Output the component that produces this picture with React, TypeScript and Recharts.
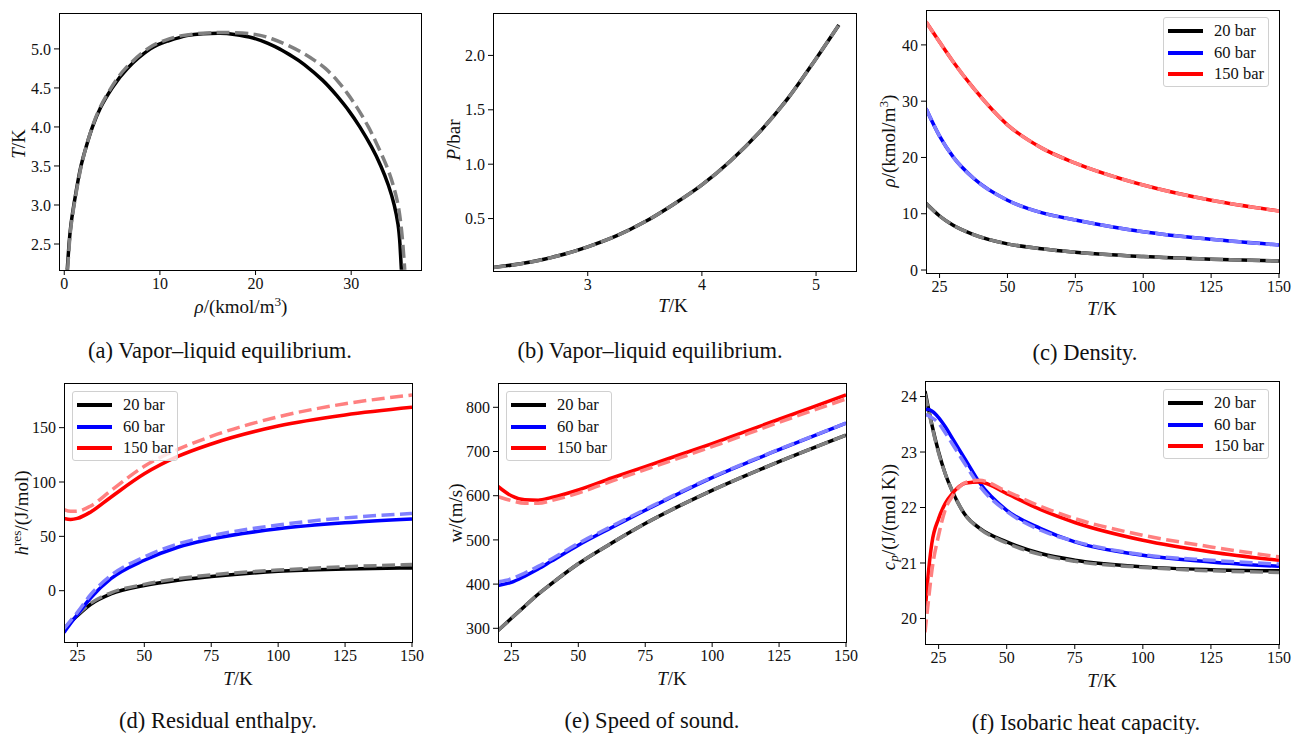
import React from "react";
import { LineChart, Line, XAxis, YAxis } from "recharts";

const SERIF = '"Liberation Serif", "DejaVu Serif", serif';

// (a) phase envelope: density and temperature
const vleModelRho = [0.31, 0.5, 0.7, 1.0, 1.35, 1.75, 2.3, 2.95, 3.8, 5.0, 6.6, 9.0, 10.8, 12.8, 14.5, 16.3, 17.8, 19.75, 21.3, 22.5, 23.9, 25.1, 27.0, 28.5, 29.8, 30.9, 32.1, 33.1, 33.9, 34.5, 34.9, 35.1, 35.25];
const vleModelT = [2.17, 2.5, 2.75, 3.0, 3.25, 3.5, 3.75, 4.0, 4.25, 4.5, 4.75, 5.0, 5.1, 5.17, 5.195, 5.2, 5.185, 5.14, 5.07, 5.0, 4.9, 4.8, 4.6, 4.4, 4.2, 4.0, 3.75, 3.5, 3.25, 3.0, 2.75, 2.5, 2.17];
const vleRefRho = [0.35, 0.53, 0.73, 1.03, 1.38, 1.78, 2.3, 2.93, 3.75, 4.9, 6.4, 8.7, 10.3, 12.3, 15.0, 17.0, 19.75, 21.7, 23.3, 24.9, 26.2, 27.3, 28.5, 29.6, 30.6, 31.8, 32.8, 33.7, 34.4, 34.9, 35.2, 35.4, 35.6];
const vleRefT = [2.17, 2.5, 2.75, 3.0, 3.25, 3.5, 3.75, 4.0, 4.25, 4.5, 4.75, 5.0, 5.1, 5.17, 5.205, 5.21, 5.19, 5.13, 5.05, 4.95, 4.85, 4.75, 4.6, 4.43, 4.25, 4.0, 3.75, 3.5, 3.25, 3.0, 2.75, 2.5, 2.17];

// (b) vapour pressure
const vpT = [2.17, 2.5, 2.75, 3.0, 3.25, 3.5, 3.75, 4.0, 4.25, 4.5, 4.75, 5.0, 5.2];
const vpP = [0.05, 0.1, 0.16, 0.24, 0.34, 0.47, 0.63, 0.81, 1.03, 1.29, 1.6, 1.97, 2.28];

// (c) density
const tempsDensity = [20, 25, 30, 37.5, 50, 62.5, 75, 100, 125, 150];
const rho20 = [11.85, 9.6, 7.95, 6.3, 4.65, 3.78, 3.16, 2.39, 1.92, 1.6];
const rho60 = [28.7, 23.8, 20.1, 16.3, 12.4, 10.2, 8.9, 6.8, 5.45, 4.45];
const rho150 = [44.1, 40.5, 37.0, 32.3, 25.8, 21.7, 19.0, 15.1, 12.4, 10.5];

// (d) residual enthalpy
const tempsEnthalpy = [20, 22.5, 25, 30, 37.5, 50, 62.5, 75, 100, 125, 150];
const hres20Model = [-37, -29, -23, -12.5, -3, 4.8, 9.7, 13, 17.8, 19.9, 21];
const hres20Ref = [-35, -28, -22, -11.5, -2, 5.8, 11, 14.5, 19, 22, 24];
const hres60Model = [-38.5, -30, -22, -6.5, 11, 28, 40, 47.5, 57, 62.5, 66];
const hres60Ref = [-35, -27.5, -20, -3.5, 14, 31, 43, 50.5, 60.5, 67, 71];
const hres150Model = [66.5, 65.5, 66.5, 72.5, 86, 107.5, 123.5, 135, 151.5, 161.7, 168.7];
const hres150Ref = [74.5, 73, 73.2, 78, 92, 114.5, 130, 142, 160, 172, 180];

// (e) speed of sound
const tempsSound = [20, 25, 30, 35, 40, 50, 62.5, 75, 100, 125, 150];
const w20 = [295, 322.6, 350, 377, 401, 446, 493, 537, 612, 677, 737];
const w60Model = [397, 404, 418, 434, 452, 488, 528, 567, 641, 704, 764];
const w60Ref = [405, 412, 425, 440, 457, 492, 531, 569, 642, 705, 764];
const w150Model = [621, 600, 591, 590, 596, 613, 640, 666, 718, 773, 828];
const w150Ref = [598, 589, 583, 583, 589, 606, 633, 659, 711, 766, 819];

// (f) isobaric heat capacity
const tempsCp = [20, 21, 22.5, 25, 27.5, 30, 35, 40, 50, 62.5, 75, 100, 125, 150];
const cp20Model = [24.1, 23.85, 23.5, 23.0, 22.6, 22.3, 21.85, 21.63, 21.38, 21.17, 21.05, 20.93, 20.88, 20.86];
const cp20Ref = [24.05, 23.82, 23.48, 22.98, 22.6, 22.3, 21.85, 21.62, 21.36, 21.15, 21.03, 20.92, 20.86, 20.83];
const cp60Model = [23.76, 23.77, 23.74, 23.62, 23.45, 23.25, 22.85, 22.45, 21.95, 21.62, 21.38, 21.14, 21.02, 20.94];
const cp60Ref = [23.68, 23.66, 23.62, 23.52, 23.34, 23.15, 22.76, 22.39, 21.93, 21.59, 21.39, 21.15, 21.05, 20.98];
const cp150Model = [20.1, 20.7, 21.35, 21.8, 22.08, 22.25, 22.44, 22.46, 22.25, 21.96, 21.73, 21.41, 21.2, 21.05];
const cp150Ref = [19.75, 20.2, 20.85, 21.5, 21.97, 22.2, 22.45, 22.49, 22.29, 22.02, 21.8, 21.5, 21.29, 21.11];

const pressures = ["20 bar", "60 bar", "150 bar"];
const tempTicks = [25, 50, 75, 100, 125, 150];

const DARK = ["#000000", "#0000ff", "#ff0000"];
const LIGHT = ["#808080", "#8080ff", "#ff8080"];

const zip = (xs: number[], ys: number[]) => xs.map((x, i) => ({ x, y: ys[i] }));

type Pt = { x: number; y: number };
type Series = { data: Pt[]; color: string; dashed?: boolean };

const YW = 50;
const MT = 6;
const MR = 20;
const XH = 30;

function Panel(props: {
  rect: [number, number, number, number];
  xDomain: [number, number];
  yDomain: [number, number];
  xTicks: number[];
  yTicks: number[];
  yFmt?: (v: number) => string;
  series: Series[];
  curve?: "monotone" | "natural";
}) {
  const [x0, x1, y0, y1] = props.rect;
  const tick = { fill: "#111", fontSize: 16, fontFamily: SERIF };
  return (
    <>
      <div style={{ position: "absolute", left: x0 - YW, top: y0 - MT }}>
        <LineChart
          width={x1 - x0 + YW + MR}
          height={y1 - y0 + MT + XH}
          margin={{ top: MT, right: MR, bottom: 0, left: 0 }}
        >
          <XAxis
            type="number"
            dataKey="x"
            domain={props.xDomain}
            ticks={props.xTicks}
            allowDataOverflow
            height={XH}
            axisLine={false}
            tickLine={{ stroke: "#000" }}
            tickSize={5}
            tickMargin={3}
            tick={tick}
            interval={0}
          />
          <YAxis
            type="number"
            domain={props.yDomain}
            ticks={props.yTicks}
            allowDataOverflow
            width={YW}
            axisLine={false}
            tickLine={{ stroke: "#000" }}
            tickSize={5}
            tickMargin={3}
            tick={tick}
            interval={0}
            tickFormatter={props.yFmt}
          />
          {props.series.map((s, i) => (
            <Line
              key={i}
              data={s.data}
              dataKey="y"
              type={props.curve ?? "monotone"}
              stroke={s.color}
              strokeWidth={3.5}
              strokeDasharray={s.dashed ? "13 5.5" : undefined}
              dot={false}
              activeDot={false}
              isAnimationActive={false}
            />
          ))}
        </LineChart>
      </div>
      <div
        style={{
          position: "absolute",
          left: x0,
          top: y0,
          width: x1 - x0 + 1,
          height: y1 - y0 + 1,
          border: "1px solid #000",
          boxSizing: "border-box",
          pointerEvents: "none",
        }}
      />
    </>
  );
}

function Legend({ left, top }: { left: number; top: number }) {
  return (
    <div
      style={{
        position: "absolute",
        left,
        top,
        width: 106,
        height: 70,
        boxSizing: "border-box",
        border: "1px solid #d0d0d0",
        borderRadius: 3,
        background: "rgba(255,255,255,0.8)",
        fontFamily: SERIF,
        fontSize: 16.5,
        color: "#111",
      }}
    >
      {pressures.map((p, i) => (
        <div key={p} style={{ position: "absolute", left: 4, top: 3 + i * 21.7, height: 20, display: "flex", alignItems: "center" }}>
          <div style={{ width: 35, height: 4, background: DARK[i] }} />
          <span style={{ marginLeft: 11, whiteSpace: "nowrap" }}>{p}</span>
        </div>
      ))}
    </div>
  );
}

function Text({ cx, cy, rotate, size = 19, children }: { cx: number; cy: number; rotate?: boolean; size?: number; children: React.ReactNode }) {
  return (
    <div
      style={{
        position: "absolute",
        left: cx,
        top: cy,
        transform: `translate(-50%, -50%)${rotate ? " rotate(-90deg)" : ""}`,
        whiteSpace: "nowrap",
        fontFamily: SERIF,
        fontSize: size,
        color: "#111",
        lineHeight: 1,
      }}
    >
      {children}
    </div>
  );
}

const sup = { fontSize: "0.7em", verticalAlign: "0.5em", lineHeight: 0 } as const;
const sub = { fontSize: "0.7em", verticalAlign: "-0.3em", lineHeight: 0 } as const;

const TK = (
  <>
    <i>T</i>/K
  </>
);
const RHO = (
  <>
    <i>ρ</i>/(kmol/m<span style={sup}>3</span>)
  </>
);

function threeP(xs: number[], model: number[][], ref: number[][]): Series[] {
  const out: Series[] = [];
  model.forEach((m, i) => {
    out.push({ data: zip(xs, m), color: DARK[i] });
    out.push({ data: zip(xs, ref[i]), color: LIGHT[i], dashed: true });
  });
  return out;
}

export default function App() {
  const fix1 = (v: number) => v.toFixed(1);
  return (
    <div style={{ position: "absolute", left: 0, top: 0, width: 1294, height: 734, background: "#fff", overflow: "hidden" }}>
      <Panel
        rect={[59, 421, 13, 270]}
        xDomain={[-0.55, 37.3]}
        yDomain={[2.167, 5.46]}
        xTicks={[0, 10, 20, 30]}
        yTicks={[2.5, 3, 3.5, 4, 4.5, 5]}
        yFmt={fix1}
        curve="natural"
        series={[
          { data: zip(vleModelRho, vleModelT), color: "#000" },
          { data: zip(vleRefRho, vleRefT), color: "#808080", dashed: true },
        ]}
      />
      <Panel
        rect={[493, 856, 13, 271]}
        xDomain={[2.17, 5.35]}
        yDomain={[0.018, 2.39]}
        xTicks={[3, 4, 5]}
        yTicks={[0.5, 1, 1.5, 2]}
        yFmt={fix1}
        series={[
          { data: zip(vpT, vpP), color: "#000" },
          { data: zip(vpT, vpP), color: "#808080", dashed: true },
        ]}
      />
      <Panel
        rect={[926, 1279, 10, 273]}
        xDomain={[20, 150]}
        yDomain={[-0.53, 46.2]}
        xTicks={tempTicks}
        yTicks={[0, 10, 20, 30, 40]}
        series={threeP(tempsDensity, [rho20, rho60, rho150], [rho20, rho60, rho150])}
      />
      <Panel
        rect={[64, 412, 383, 642]}
        xDomain={[20, 150]}
        yDomain={[-47.2, 191.1]}
        xTicks={tempTicks}
        yTicks={[0, 50, 100, 150]}
        series={threeP(tempsEnthalpy, [hres20Model, hres60Model, hres150Model], [hres20Ref, hres60Ref, hres150Ref])}
      />
      <Panel
        rect={[498, 846, 383, 642]}
        xDomain={[20, 150]}
        yDomain={[269, 855]}
        xTicks={tempTicks}
        yTicks={[300, 400, 500, 600, 700, 800]}
        series={threeP(tempsSound, [w20, w60Model, w150Model], [w20, w60Ref, w150Ref])}
      />
      <Panel
        rect={[925, 1279, 381, 644]}
        xDomain={[20, 150]}
        yDomain={[19.54, 24.28]}
        xTicks={tempTicks}
        yTicks={[20, 21, 22, 23, 24]}
        series={threeP(tempsCp, [cp20Model, cp60Model, cp150Model], [cp20Ref, cp60Ref, cp150Ref])}
      />

      <Legend left={1163} top={17} />
      <Legend left={72} top={391} />
      <Legend left={506} top={391} />
      <Legend left={1163} top={389} />

      <Text cx={241} cy={306}>{RHO}</Text>
      <Text cx={18} cy={144} rotate>{TK}</Text>
      <Text cx={673} cy={305}>{TK}</Text>
      <Text cx={453} cy={140} rotate>
        <i>P</i>/bar
      </Text>
      <Text cx={1102} cy={308}>{TK}</Text>
      <Text cx={888} cy={141} rotate>{RHO}</Text>

      <Text cx={238} cy={678}>{TK}</Text>
      <Text cx={21} cy={513} rotate>
        <i>h</i>
        <span style={sup}>res</span>/(J/mol)
      </Text>
      <Text cx={672} cy={678}>{TK}</Text>
      <Text cx={455} cy={513} rotate>
        w/(m/s)
      </Text>
      <Text cx={1102} cy={680}>{TK}</Text>
      <Text cx={888} cy={517} rotate>
        <i>c</i>
        <span style={sub}>
          <i>p</i>
        </span>
        /(J/(mol K))
      </Text>

      <Text cx={220} cy={351} size={22.5}>(a) Vapor–liquid equilibrium.</Text>
      <Text cx={650} cy={351} size={22.5}>(b) Vapor–liquid equilibrium.</Text>
      <Text cx={1085} cy={353} size={22.5}>(c) Density.</Text>
      <Text cx={218} cy={721} size={22.5}>(d) Residual enthalpy.</Text>
      <Text cx={652} cy={721} size={22.5}>(e) Speed of sound.</Text>
      <Text cx={1086} cy={723} size={22.5}>(f) Isobaric heat capacity.</Text>
    </div>
  );
}
